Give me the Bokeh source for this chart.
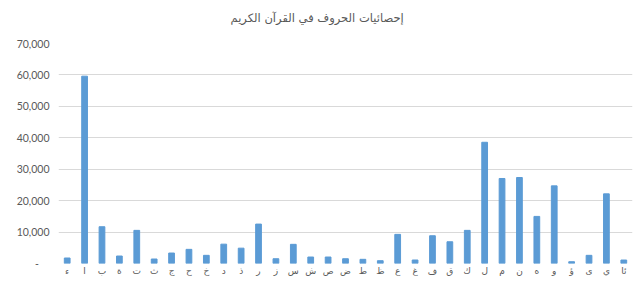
from bokeh.plotting import figure
from bokeh.models import FactorRange, Range1d, CustomJSTickFormatter, FixedTicker
from bokeh.embed import file_html
from bokeh.resources import INLINE

letters = ["ء", "ا", "ب", "ة", "ت", "ث", "ج", "ح", "خ", "د", "ذ", "ر", "ز", "س", "ش",
           "ص", "ض", "ط", "ظ", "ع", "غ", "ف", "ق", "ك", "ل", "م", "ن", "ه", "و", "ؤ",
           "ى", "ي", "ئا"]
counts = [1750, 59600, 11700, 2380, 10540, 1430, 3330, 4500, 2600, 6150, 4880, 12540,
          1520, 6100, 2060, 2060, 1520, 1330, 890, 9270, 1110, 8830, 6920, 10540,
          38570, 27050, 27360, 14980, 24700, 570, 2600, 22160, 1100]
y_ticks = [0, 10000, 20000, 30000, 40000, 50000, 60000, 70000]
title_text = "إحصائيات الحروف في القرآن الكريم"

TXT = "#595959"

p = figure(x_range=FactorRange(*letters, range_padding=0), y_range=Range1d(0, 70000),
           width=633, height=285, output_backend="svg", toolbar_location=None,
           title=title_text + "\n\u00a0", min_border_left=58, min_border_right=1,
           min_border_top=43, min_border_bottom=22)

p.vbar(x=letters, top=counts, width=0.33, color="#5B9BD5")

p.title.align = "left"
p.title.text_font = "DejaVu Sans"
p.title.text_font_size = "11.5px"
p.title.text_font_style = "normal"
p.title.text_color = TXT
p.title.offset = 172

p.outline_line_color = None
p.xgrid.grid_line_color = None
p.ygrid.grid_line_color = "#D9D9D9"
p.ygrid.grid_line_width = 1

p.yaxis.ticker = FixedTicker(ticks=y_ticks)
p.yaxis.formatter = CustomJSTickFormatter(code="""
if (tick == 0) { return '-\u2002\u2002'; }
return tick.toLocaleString('en-US');
""")
for ax in (p.xaxis, p.yaxis):
    ax.axis_line_color = None
    ax.major_tick_line_color = None
    ax.minor_tick_line_color = None
    ax.major_label_text_color = TXT

p.yaxis.major_label_text_font = "Lato"
p.yaxis.major_label_text_font_size = "10.5px"
p.yaxis.major_label_standoff = 3

p.xaxis.major_label_text_font = "DejaVu Sans"
p.xaxis.major_label_text_font_size = "9px"
p.xaxis.major_label_standoff = -4
p.xaxis.group_text_font_size = "0px"

open("out.html", "w").write(file_html(p, INLINE))
